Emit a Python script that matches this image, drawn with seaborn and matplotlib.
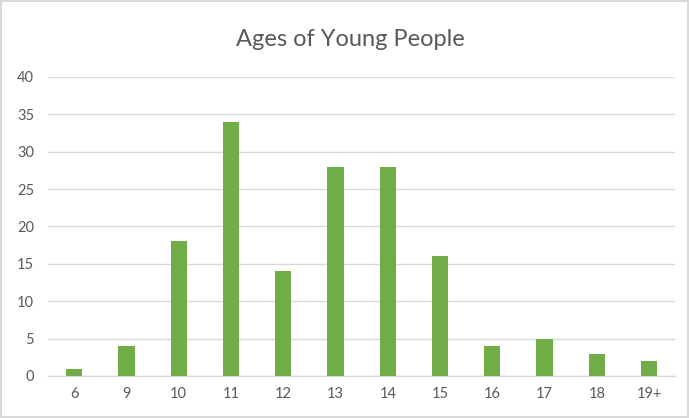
import matplotlib
matplotlib.use("Agg")
import matplotlib.pyplot as plt
import seaborn as sns
import pandas as pd

ages   = ["6", "9", "10", "11", "12", "13", "14", "15", "16", "17", "18", "19+"]
counts = [1, 4, 18, 34, 14, 28, 28, 16, 4, 5, 3, 2]
title  = "Ages of Young People"
y_ticks = [0, 5, 10, 15, 20, 25, 30, 35, 40]

df = pd.DataFrame({"age": ages, "count": counts})

sns.set_style("white")
plt.rcParams["font.family"] = ["Lato", "DejaVu Sans"]

fig = plt.figure(figsize=(6.89, 4.18), dpi=100)
fig.patch.set_edgecolor("#D9D9D9")
fig.patch.set_linewidth(1.5)
ax = fig.add_axes([0.0697, 0.1005, 0.9103, 0.7153])

sns.barplot(data=df, x="age", y="count", color="#70AD47", saturation=1,
            width=0.31, linewidth=0, ax=ax, zorder=3)

ax.set_ylim(0, 40)
ax.set_yticks(y_ticks)
ax.set_xlim(-0.5, len(ages) - 0.5)
ax.yaxis.grid(True, color="#D9D9D9", linewidth=1, zorder=0)
ax.set_axisbelow(True)
for s in ["top", "right", "left"]:
    ax.spines[s].set_visible(False)
ax.spines["bottom"].set_color("#D9D9D9")
ax.spines["bottom"].set_linewidth(1)
ax.tick_params(axis="both", length=0, colors="#595959", labelsize=10.5)
ax.tick_params(axis="x", pad=8)
ax.tick_params(axis="y", pad=10)
ax.set_xlabel("")
ax.set_ylabel("")

fig.text(0.508, 0.905, title, ha="center", va="center", fontsize=17, color="#595959")

fig.savefig("out.png", dpi=100, edgecolor=fig.get_edgecolor())
